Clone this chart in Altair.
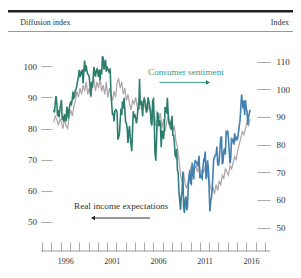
import altair as alt
import pandas as pd

# Consumer sentiment (index, right axis), monthly from Oct 1994 to Dec 2015
sentiment = [
    92.7, 91.6, 95.1,
    97.6, 95.1, 90.3, 92.5, 89.8, 92.7, 94.4, 96.2, 88.9, 90.2, 88.2, 91.0,
    89.3, 88.5, 93.7, 92.7, 89.4, 92.4, 94.7, 95.3, 94.7, 96.5, 99.2, 96.9,
    97.4, 99.7, 100.0, 101.4, 103.2, 104.5, 107.1, 104.4, 106.0, 105.6, 107.2, 102.1,
    106.6, 110.4, 106.5, 108.7, 106.5, 105.6, 105.2, 104.4, 100.9, 97.4, 102.7, 100.5,
    103.9, 108.1, 105.7, 104.6, 106.8, 107.3, 106.0, 104.5, 107.2, 103.2, 107.2, 105.4,
    112.0, 111.3, 107.1, 109.2, 110.7, 106.4, 108.3, 107.3, 106.8, 105.8, 107.6, 98.4,
    94.7, 90.6, 91.5, 88.4, 92.0, 92.6, 92.4, 91.5, 81.8, 82.7, 83.9, 88.8,
    93.0, 90.7, 95.7, 93.0, 96.9, 92.4, 88.1, 87.6, 86.1, 80.6, 84.2, 86.7,
    82.4, 79.9, 77.6, 86.0, 92.1, 89.7, 90.9, 89.3, 87.7, 89.6, 93.7, 92.6,
    103.8, 94.4, 95.8, 94.2, 90.2, 95.6, 96.7, 95.9, 94.2, 91.7, 92.8, 97.1,
    95.5, 94.1, 92.6, 87.7, 86.9, 96.0, 96.5, 89.1, 76.9, 74.2, 81.6, 91.5,
    91.2, 86.7, 88.9, 87.4, 79.1, 84.9, 84.7, 82.0, 85.4, 93.6, 92.1, 91.7,
    96.9, 91.3, 88.4, 87.1, 88.3, 85.3, 90.4, 83.4, 83.4, 80.9, 76.1, 75.5,
    78.4, 70.8, 69.5, 62.6, 59.8, 56.4, 61.2, 63.0, 70.3, 57.6, 55.3, 60.1,
    61.2, 56.3, 57.3, 65.1, 68.7, 70.8, 66.0, 65.7, 73.5, 70.6, 67.4, 72.5,
    74.4, 73.6, 73.6, 72.2, 73.6, 76.0, 67.8, 68.9, 68.2, 67.7, 71.6, 74.5,
    74.2, 77.5, 67.5, 69.8, 74.3, 71.5, 63.7, 55.8, 59.5, 60.8, 63.7, 69.9,
    75.0, 75.3, 76.2, 76.4, 79.3, 73.2, 72.3, 74.3, 78.3, 82.6, 82.7, 72.9,
    73.8, 77.6, 78.6, 76.4, 84.5, 84.1, 85.1, 82.1, 77.5, 73.2, 75.1, 82.5,
    81.2, 81.6, 80.0, 84.1, 81.9, 82.5, 81.8, 82.5, 84.6, 86.9, 88.8, 93.6,
    98.1, 95.4, 93.0, 95.9, 90.7, 96.1, 93.1, 91.9, 87.2, 90.0, 91.3, 92.6,
]

# Real income expectations (diffusion index, left axis), every two months from Oct 1994
income = [
    82, 84,
    83, 81, 83, 82, 80, 83,
    81, 80, 84, 86, 84, 87,
    89, 92, 90, 93, 91, 94,
    92, 95, 91, 93, 90, 94,
    96, 92, 95, 93, 96, 92,
    94, 91, 95, 90, 93, 91,
    89, 92, 90, 95, 96, 93,
    95, 91, 93, 89, 91, 88,
    86, 89, 88, 90, 87, 89,
    88, 86, 89, 87, 85, 87,
    86, 84, 82, 85, 81, 80,
    83, 85, 80, 83, 79, 82,
    84, 80, 83, 79, 81, 76,
    74, 70, 65, 63, 66, 62,
    61, 63, 66, 68, 65, 67,
    68, 66, 69, 65, 67, 66,
    68, 64, 66, 62, 60, 61,
    59, 62, 60, 63, 62, 65,
    64, 67, 66, 65, 68, 67,
    69, 71, 70, 73, 75, 77,
    79, 78, 80, 82, 81, 83,
]

start = 1994 + 9 / 12
years_s = [start + i / 12 for i in range(len(sentiment))]
years_i = [start + 2 * i / 12 for i in range(len(income))]

left_ticks = [50, 60, 70, 80, 90, 100]
right_ticks = [50, 60, 70, 80, 90, 100, 110]
year_ticks = list(range(1994, 2019))

df_s = pd.DataFrame({"year": years_s, "value": sentiment})
df_i = pd.DataFrame({"year": years_i, "value": income})

W, H = 229, 205
X0, X1 = 1993.38, 2018.06
ppy = W / (X1 - X0)
SERIF = "Liberation Serif"
TICK = "#aaaaaa"

x_scale = alt.Scale(domain=[X0, X1], nice=False, zero=False)
x_axis = alt.Axis(
    values=year_ticks,
    labelExpr="datum.value % 5 == 1 ? toString(datum.value) : ''",
    tickSize=9, offset=-9, domain=False, grid=False,
    tickOffset=-ppy / 2, labelOffset=ppy / 2, labelPadding=6,
    labelFont=SERIF, labelFontSize=8, labelColor="#333", tickColor=TICK,
    labelFlush=False, labelOverlap=False, title=None,
)
x_enc = alt.X("year:Q", scale=x_scale, axis=x_axis)

income_line = alt.Chart(df_i).mark_line(color="#aca4a8", strokeWidth=1.2).encode(
    x=x_enc,
    y=alt.Y(
        "value:Q",
        scale=alt.Scale(domain=[40.6, 106.56], nice=False, zero=False),
        axis=alt.Axis(
            orient="left", values=left_ticks, offset=-11, tickSize=11,
            domain=False, grid=False, labelPadding=4.5, labelFont=SERIF,
            labelFontSize=9, labelColor="#333", tickColor=TICK, title=None,
        ),
    ),
)

grad = alt.Gradient(
    gradient="linear",
    stops=[
        alt.GradientStop(offset=0, color="#2d7d6d"),
        alt.GradientStop(offset=0.6, color="#2d7d6d"),
        alt.GradientStop(offset=0.7, color="#4280b2"),
        alt.GradientStop(offset=1, color="#4280b2"),
    ],
    x1=0, x2=1, y1=0, y2=0,
)

sent_line = alt.Chart(df_s).mark_line(stroke=grad, strokeWidth=1.6).encode(
    x=x_enc,
    y=alt.Y(
        "value:Q",
        scale=alt.Scale(domain=[41.5, 115.68], nice=False, zero=False),
        axis=alt.Axis(
            orient="right", values=right_ticks, offset=-13, tickSize=13,
            domain=False, grid=False, labelPadding=6, labelFont=SERIF,
            labelFontSize=9, labelColor="#333", tickColor=TICK, title=None,
        ),
    ),
)

one = pd.DataFrame({"d": [0]})

def rule(x1, x2, y, color, width):
    return alt.Chart(one).mark_rule(color=color, strokeWidth=width).encode(
        x=alt.value(x1), x2=alt.value(x2), y=alt.value(y)
    )

def label(txt, x, y, align, color, size):
    return alt.Chart(one).mark_text(
        align=align, baseline="middle", font=SERIF, fontSize=size, color=color
    ).encode(x=alt.value(x), y=alt.value(y), text=alt.value(txt))

def head(x, y, shape, color):
    return alt.Chart(one).mark_point(
        shape=shape, filled=True, size=22, color=color, opacity=1
    ).encode(x=alt.value(x), y=alt.value(y))

decor = [
    rule(-33, 252, -34.7, "#222", 2.5),
    rule(-33, 252, -14.5, "#999", 1),
    rule(0, W, H, "#999", 1),
    label("Diffusion index", -20.7, -23.4, "left", "#333", 8),
    label("Index", 248, -23.4, "right", "#333", 8),
    label("Consumer sentiment", 107, 25.5, "left", "#3a9c88", 9.2),
    rule(118.5, 166, 36.4, "#3a9c88", 1),
    head(167, 36.4, "triangle-right", "#23806b"),
    label("Real income expectations", 33, 159.8, "left", "#333", 9.2),
    rule(52, 109, 172, "#333", 1),
    head(52, 172, "triangle-left", "#222"),
]

chart = alt.layer(income_line, sent_line, *decor).resolve_scale(
    y="independent"
).properties(
    width=W, height=H,
    padding={"left": 33, "top": 38, "right": 23, "bottom": 21},
    autosize=alt.AutoSizeParams(type="none"),
    background="white",
).configure_view(stroke=None)

chart.save("out.html", embed_options={"renderer": "svg", "actions": False})
